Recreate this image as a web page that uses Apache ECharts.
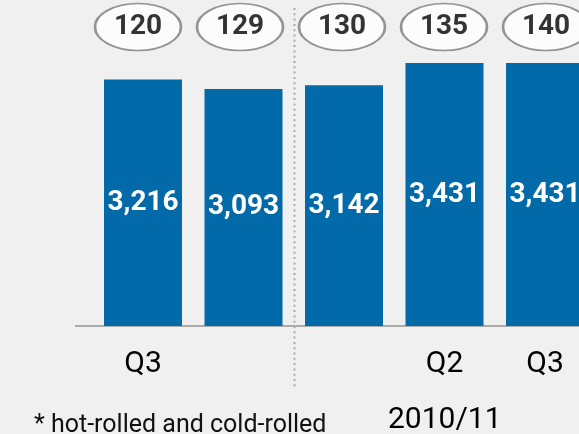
<!DOCTYPE html>
<html>
<head>
<meta charset="utf-8">
<script src="https://cdn.jsdelivr.net/npm/echarts@6/dist/echarts.min.js"></script>
<style>
  html, body { margin: 0; padding: 0; background: #f0f0f0; }
  #chart { width: 579px; height: 434px; }
</style>
</head>
<body>
<div id="chart"></div>
<script>
const categories = ['P1', 'P2', 'P3', 'P4', 'P5'];
const tickLabels = ['Q3', '', '', 'Q2', 'Q3'];
const barValues = [3216, 3093, 3142, 3431, 3431];
const bubbleValues = [120, 129, 130, 135, 140];
const periodLabel = '2010/11';
const footnote = '* hot-rolled and cold-rolled';

const chart = echarts.init(document.getElementById('chart'), null, { renderer: 'canvas' });

const FONT = 'Roboto, "Noto Sans", sans-serif';

const option = {
  backgroundColor: '#f0f0f0',
  animation: false,
  grid: [
    { left: 92.75, width: 502.5, top: 19.4, bottom: 108, outerBoundsMode: 'none', containLabel: false },
    { left: 87, width: 510, top: 3, height: 48, outerBoundsMode: 'none', containLabel: false }
  ],
  xAxis: [
    {
      type: 'category', gridIndex: 0, data: categories,
      axisLine: { show: false }, axisTick: { show: false },
      axisLabel: {
        margin: 23, fontFamily: FONT, fontSize: 30, color: '#000',
        formatter: (v, i) => tickLabels[i]
      }
    },
    {
      type: 'category', gridIndex: 1, data: categories,
      axisLine: { show: false }, axisTick: { show: false }, axisLabel: { show: false }
    }
  ],
  yAxis: [
    { type: 'value', gridIndex: 0, min: 0, max: 4000, show: false, splitLine: { show: false } },
    { type: 'value', gridIndex: 1, min: 0, max: 1, show: false, splitLine: { show: false } }
  ],
  series: [
    {
      type: 'bar', xAxisIndex: 0, yAxisIndex: 0, z: 3,
      data: barValues, barWidth: 78,
      itemStyle: { color: '#026aa8' },
      label: {
        show: true, position: 'inside', color: '#fff',
        fontFamily: FONT, fontWeight: 'bold', fontSize: 28,
        formatter: p => p.value.toLocaleString('en-US')
      }
    },
    {
      type: 'scatter', xAxisIndex: 1, yAxisIndex: 1, z: 3,
      symbol: 'circle', symbolSize: [86, 47],
      data: bubbleValues.map((v, i) => [i, 0.5]),
      itemStyle: { color: '#ffffff', borderColor: '#7a7a7a', borderWidth: 2 },
      label: {
        show: true, position: 'inside', color: '#000',
        fontFamily: FONT, fontWeight: 'bold', fontSize: 28,
        formatter: p => String(bubbleValues[p.dataIndex])
      }
    }
  ],
  graphic: [
    {
      type: 'line', z: 0,
      shape: { x1: 75, y1: 326, x2: 579, y2: 326 },
      style: { stroke: '#aaaaaa', lineWidth: 2 }
    },
    {
      type: 'line', z: 0,
      shape: { x1: 294.5, y1: 8, x2: 294.5, y2: 389 },
      style: { stroke: '#aaaaaa', lineWidth: 2, lineDash: [2, 3.3] }
    },
    {
      type: 'text', left: 388, top: 405,
      style: { text: periodLabel, fontFamily: FONT, fontSize: 30, fill: '#000' }
    },
    {
      type: 'text', left: 34, top: 413,
      style: { text: footnote, fontFamily: FONT, fontSize: 25, fill: '#111' }
    }
  ]
};

chart.setOption(option);
</script>
</body>
</html>
